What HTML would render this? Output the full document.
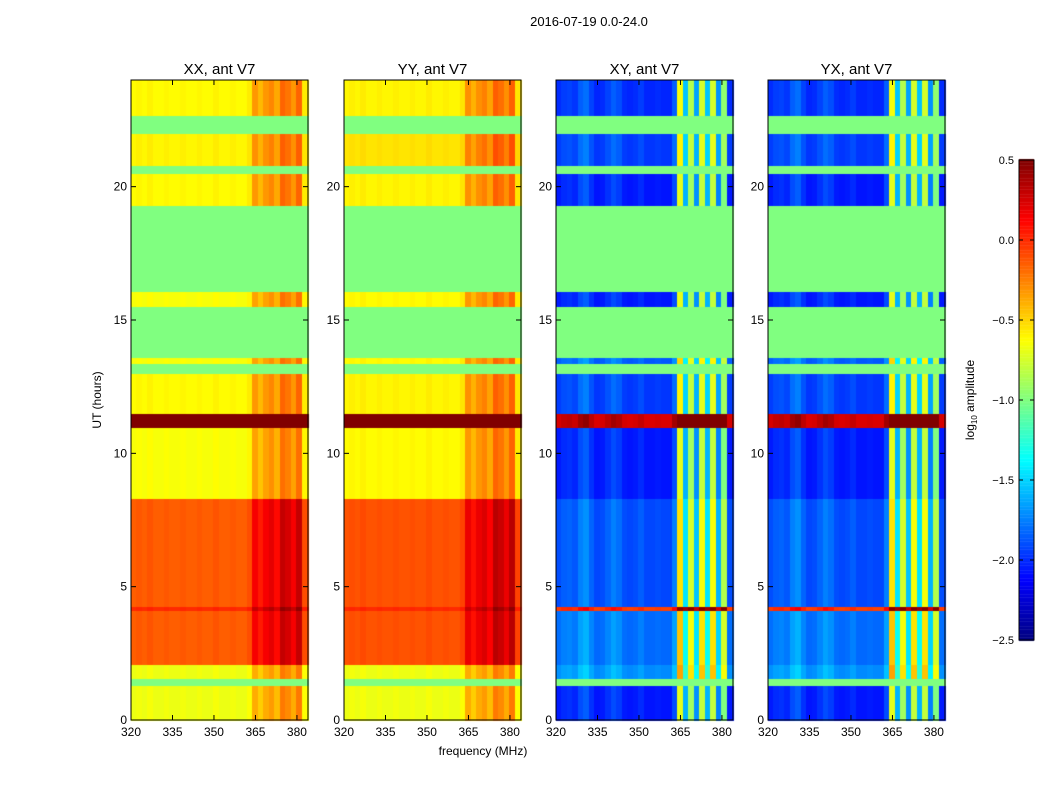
<!DOCTYPE html>
<html><head><meta charset="utf-8"><style>
body{margin:0;background:#fff;font-family:"Liberation Sans",sans-serif;}
#wrap{position:relative;width:1050px;height:800px;}
</style></head><body>
<div id="wrap">
<canvas id="cv" width="1050" height="800"></canvas>
<svg id="ov" width="1050" height="800" style="position:absolute;left:0;top:0"></svg>
</div>
<script>
// Data
const polTitles = ["XX, ant V7","YY, ant V7","XY, ant V7","YX, ant V7"];
const bandStart = [0,1.3,1.6,2.1,4.1,4.25,8.3,11.0,11.5,13.0,13.4,13.6,15.5,16.1,19.3,20.5,20.8,22.0,22.7];
const bandEnd   = [1.3,1.6,2.1,4.1,4.25,8.3,11.0,11.5,13.0,13.4,13.6,15.5,16.1,19.3,20.5,20.8,22.0,22.7,24];
const bandFlag  = [0,1,0,0,0,0,0,0,0,1,0,1,0,1,0,1,0,1,0];
const levelXX   = [-0.68,-1,-0.68,-0.15,0.0,-0.15,-0.65,0.5,-0.62,-1,-0.65,-1,-0.65,-1,-0.62,-1,-0.6,-1,-0.62];
const levelYY   = [-0.68,-1,-0.68,-0.12,0.0,-0.12,-0.62,0.5,-0.6,-1,-0.62,-1,-0.62,-1,-0.6,-1,-0.55,-1,-0.6];
const levelXY   = [-2.1,-1,-1.75,-1.85,-0.1,-1.95,-2.1,0.2,-2.0,-1,-1.9,-1,-2.1,-1,-2.1,-1,-2.0,-1,-2.05];
const levelYX   = [-2.1,-1,-1.75,-1.85,-0.1,-1.95,-2.1,0.2,-2.0,-1,-1.9,-1,-2.1,-1,-2.1,-1,-2.0,-1,-2.05];
const freqBins  = [320,322,324,326,328,330,332,334,336,338,340,342,344,346,348,350,352,354,356,358,360,362,364,366,368,370,372,374,376,378,380,382];
const offPar    = [0,0.02,0,0.03,0,0,0.02,0,0,0.02,0,0,0.02,0,0,0.03,0,0,0.02,0,0,0.05,0.3,0.2,0.3,0.35,0.25,0.45,0.4,0.3,0.45,0.05];
const offCross  = [0.05,0.1,0.12,0.08,0.2,0.25,0.12,0.03,0.05,0.12,0.2,0.15,0.05,0.03,0.05,0.1,0.03,0.03,0.05,0.03,0.03,0.2,1.4,0.5,1.2,0.4,1.3,0.5,1.3,0.35,1.1,0.05];
const yTicks = [0,5,10,15,20];
const xTicks = [320,335,350,365,380];
const cbTicks = [0.5,0.0,-0.5,-1.0,-1.5,-2.0,-2.5];
const levels=[levelXX,levelYY,levelXY,levelYX];
const offs=[offPar,offPar,offCross,offCross];

const panelX=[131,344,556,768], PW=177, TOP=80, BOT=720;
const yS=h=>BOT-h*(BOT-TOP)/24;
const xS=(px,f)=>px+(f-320)*(PW/64);
const cS=v=>640-(v+2.5)*160;
function jet(v){let t=(v+2.5)/3;t=Math.max(0,Math.min(1,t));
 const f=x=>Math.round(255*Math.max(0,Math.min(1,1.5-Math.abs(x))));
 return `rgb(${f(4*t-3)},${f(4*t-2)},${f(4*t-1)})`;}
const ctx=document.getElementById('cv').getContext('2d');
ctx.fillStyle='#fff';ctx.fillRect(0,0,1050,800);
for(let p=0;p<4;p++){
 for(let b=0;b<bandStart.length;b++){
  for(let c=0;c<freqBins.length;c++){
   const v=bandFlag[b]?-1:levels[p][b]+offs[p][c];
   ctx.fillStyle=jet(v);
   const x0=xS(panelX[p],freqBins[c]),x1=xS(panelX[p],freqBins[c]+2);
   const y0=yS(bandEnd[b]),y1=yS(bandStart[b]);
   ctx.fillRect(Math.floor(x0),Math.floor(y0),Math.ceil(x1-x0)+1,Math.ceil(y1-y0)+1);
  }
 }
}
for(let i=0;i<=300;i++){const v=-2.5+3*i/300;ctx.fillStyle=jet(v);ctx.fillRect(1019,cS(v)-1,15,2);}
const NS='http://www.w3.org/2000/svg',ov=document.getElementById('ov');
function mk(tag,attrs,txt){const e=document.createElementNS(NS,tag);for(const k in attrs)e.setAttribute(k,attrs[k]);if(txt!==undefined)e.textContent=txt;ov.appendChild(e);return e;}
for(let p=0;p<4;p++){
 const px=panelX[p];
 const fr=mk('rect',{x:px,y:TOP,width:PW,height:BOT-TOP,fill:'none',stroke:'#000','stroke-width':1});
 
 const t=mk('text',{x:px+PW/2,y:74,'text-anchor':'middle','font-size':15},polTitles[p]);
 
 yTicks.forEach(h=>{const y=yS(h);mk('line',{x1:px,x2:px+5,y1:y,y2:y,stroke:'#000'});mk('line',{x1:px+PW-5,x2:px+PW,y1:y,y2:y,stroke:'#000'});
  const l=mk('text',{x:px-4,y:y+4,'text-anchor':'end','font-size':12},h);
  });
 xTicks.forEach(f=>{const x=xS(px,f);mk('line',{x1:x,x2:x,y1:BOT,y2:BOT-5,stroke:'#000'});mk('line',{x1:x,x2:x,y1:TOP,y2:TOP+5,stroke:'#000'});
  const l=mk('text',{x:x,y:736,'text-anchor':'middle','font-size':12},f);
  });
}
const st=mk('text',{x:589,y:26,'text-anchor':'middle','font-size':13},'2016-07-19 0.0-24.0');

const xl=mk('text',{x:483,y:755,'text-anchor':'middle','font-size':12},'frequency (MHz)');

const yl=mk('text',{x:0,y:0,'text-anchor':'middle','font-size':12,transform:'translate(101,400) rotate(-90)'},'UT (hours)');

const cf=mk('rect',{x:1019,y:160,width:15,height:480,fill:'none',stroke:'#000'});

cbTicks.forEach(v=>{const y=cS(v);mk('line',{x1:1019,x2:1023,y1:y,y2:y,stroke:'#000'});mk('line',{x1:1030,x2:1034,y1:y,y2:y,stroke:'#000'});
 const l=mk('text',{x:1014,y:y+4,'text-anchor':'end','font-size':11},(v<0?'\u2212':'')+Math.abs(v).toFixed(1));
 });
const cl=mk('text',{x:0,y:0,'text-anchor':'middle','font-size':12,transform:'translate(974,400) rotate(-90)'});
cl.innerHTML='log<tspan font-size="8" dy="3">10</tspan><tspan dy="-3"> amplitude</tspan>';

</script>
</body></html>
